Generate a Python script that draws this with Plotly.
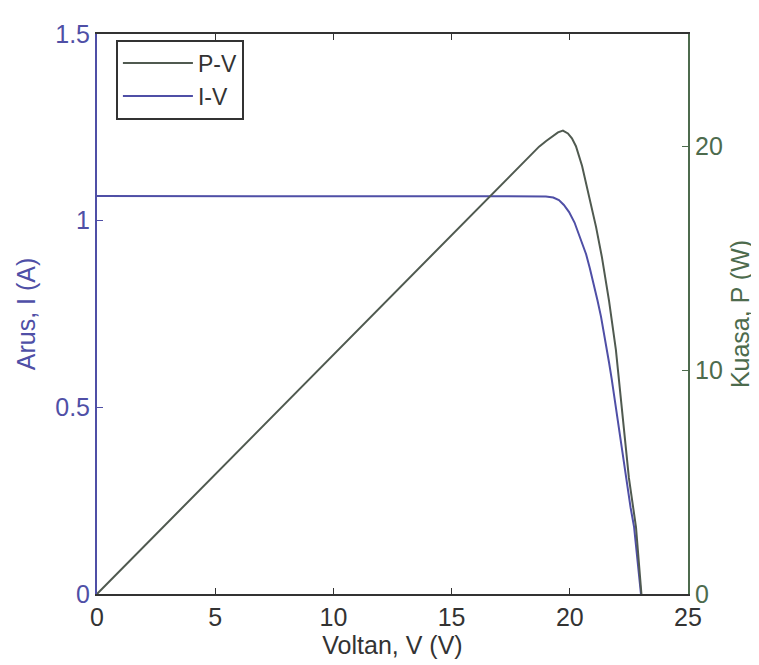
import plotly.graph_objects as go

# I-V curve (Voltan V, Arus A)
iv_v = [0, 5, 10, 15, 18.7, 18.99, 19.3, 19.54, 19.75, 19.97, 20.2, 20.39, 20.55, 20.69, 20.85,
        21.02, 21.17, 21.32, 21.5, 21.66, 21.77, 21.87, 22.02, 22.17, 22.3, 22.42, 22.57,
        22.72, 22.87, 23.01]
iv_i = [1.066, 1.066, 1.066, 1.066, 1.066, 1.065, 1.062, 1.055, 1.042, 1.023, 0.995, 0.962,
        0.935, 0.910, 0.872, 0.830, 0.787, 0.743, 0.682, 0.620, 0.577, 0.533, 0.468, 0.401,
        0.343, 0.285, 0.232, 0.179, 0.090, 0.0]

# P-V curve (Voltan V, Kuasa W)
pv_v = [0, 5, 10, 15, 16.58, 18.0, 18.70, 19.0, 19.25, 19.50, 19.71, 19.92, 20.09, 20.26,
        20.52, 20.81, 21.11, 21.36, 21.66, 21.95, 22.12, 22.29, 22.50, 22.80, 23.03]
pv_p = [0, 5.34, 10.68, 16.02, 17.70, 19.22, 19.97, 20.22, 20.43, 20.61, 20.69, 20.56, 20.34,
        19.99, 19.11, 17.79, 16.39, 15.03, 13.09, 10.90, 9.14, 7.38, 5.18, 2.99, 0.0]

x_ticks = [0, 5, 10, 15, 20, 25]
left_ticks = [0, 0.5, 1, 1.5]
left_labels = ["0", "0.5", "1", "1.5"]
right_ticks = [0, 10, 20]

BLUE = "#4f4fa6"
GREEN = "#4d6b4d"
PV_LINE = "#505a50"
DARK = "#333333"
FONT = "Liberation Sans"

fig = go.Figure()
fig.add_trace(go.Scatter(x=pv_v, y=pv_p, name="P-V", yaxis="y2", mode="lines",
                         line=dict(color=PV_LINE, width=2)))
fig.add_trace(go.Scatter(x=iv_v, y=iv_i, name="I-V", mode="lines",
                         line=dict(color=BLUE, width=2)))

fig.update_layout(
    width=759, height=665,
    margin=dict(l=89, r=79, t=17, b=79),
    paper_bgcolor="white", plot_bgcolor="white",
    font=dict(family=FONT, size=24, color=DARK),
    showlegend=True,
    legend=dict(x=0.032, y=0.99, xanchor="left", yanchor="top",
                bordercolor=DARK, borderwidth=2, bgcolor="white",
                font=dict(size=23, color=DARK), traceorder="normal",
                itemwidth=70, tracegroupgap=2),
    xaxis=dict(range=[0, 25], tickvals=x_ticks, ticks="inside", ticklen=6,
               tickcolor=DARK, showline=True, linecolor=DARK, linewidth=2,
               mirror="ticks", showgrid=False, zeroline=False,
               tickfont=dict(size=25, color=DARK),
               title=dict(text="Voltan, V (V)", font=dict(size=25, color=DARK), standoff=4)),
    yaxis=dict(range=[0, 1.5], tickvals=left_ticks, ticktext=left_labels,
               ticks="inside", ticklen=6, tickcolor=BLUE,
               showline=True, linecolor=BLUE, linewidth=2, showgrid=False,
               zeroline=False, tickfont=dict(size=25, color=BLUE),
               title=dict(text="Arus, I (A)", font=dict(size=25, color=BLUE), standoff=12)),
    yaxis2=dict(range=[0, 25], tickvals=right_ticks, overlaying="y", side="right",
                ticks="inside", ticklen=6, tickcolor=GREEN,
                showline=True, linecolor=GREEN, linewidth=2, showgrid=False,
                zeroline=False, tickfont=dict(size=25, color=GREEN),
                title=dict(text="Kuasa, P (W)", font=dict(size=25, color=GREEN), standoff=10)),
)

fig.write_html("out.html")
